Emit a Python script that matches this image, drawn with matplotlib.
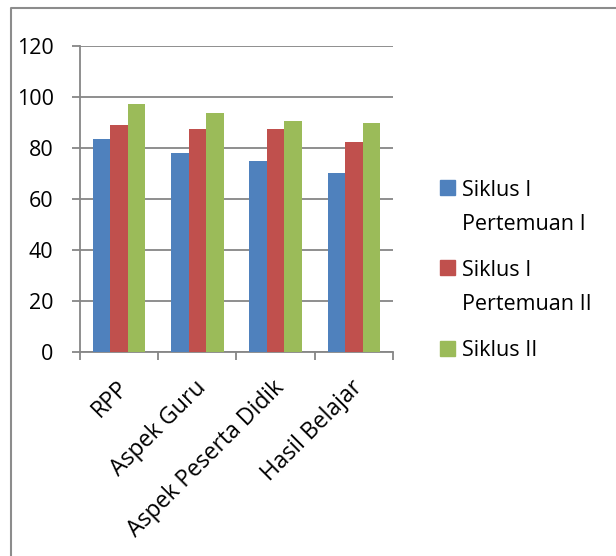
import numpy as np
import matplotlib.pyplot as plt
from matplotlib.patches import Rectangle
from matplotlib.lines import Line2D

# data
categories = ["RPP", "Aspek Guru", "Aspek Peserta Didik", "Hasil Belajar"]
series_names = ["Siklus I\nPertemuan I", "Siklus I\nPertemuan II", "Siklus II"]
siklus1_p1 = [83.3, 78.0, 74.8, 70.1]
siklus1_p2 = [88.8, 87.3, 87.3, 82.4]
siklus2 = [97.1, 93.6, 90.5, 89.7]
colors = ["#4F81BD", "#C0504D", "#9BBB59"]

plt.rcParams['font.family'] = ['Open Sans', 'DejaVu Sans']

W, H = 616, 556
fig = plt.figure(figsize=(W / 100, H / 100), dpi=100)
ax = fig.add_axes([80 / W, 1 - 352 / H, 313 / W, (352 - 45.7) / H])

x = np.arange(len(categories))
w = 0.223
values = [siklus1_p1, siklus1_p2, siklus2]
for i, (vals, c) in enumerate(zip(values, colors)):
    ax.bar(x + (i - 1) * w, vals, width=w, color=c, zorder=3)

ax.set_xlim(-0.5, len(categories) - 0.5)
ax.set_ylim(0, 120)
ax.set_yticks(range(0, 121, 20))
ax.yaxis.grid(True, color="#868686", linewidth=1.3, zorder=0)
ax.tick_params(axis='y', labelsize=15.5, length=6, color="#868686", width=1.3, pad=13)

ax.set_xticks(x - 0.04)
ax.set_xticklabels(categories, rotation=45, ha='right', va='top',
                   rotation_mode='anchor', fontsize=16.5)
ax.tick_params(axis='x', which='major', length=0, pad=17)
ax.set_xticks(np.arange(-0.5, len(categories), 1.0), minor=True)
ax.tick_params(axis='x', which='minor', length=6, color="#868686", width=1.3)

for side in ['top', 'right']:
    ax.spines[side].set_visible(False)
for side in ['left', 'bottom']:
    ax.spines[side].set_color("#868686")
    ax.spines[side].set_linewidth(1.3)

# legend drawn by hand: marker lines up with the first text line
y = 188
for name, c in zip(series_names, colors):
    lines = name.split("\n")
    fig.patches.append(Rectangle((440 / W, 1 - (y + 7.5) / H), 15 / W, 15 / H,
                                 transform=fig.transFigure, color=c))
    for j, line in enumerate(lines):
        fig.text(462 / W, 1 - (y + j * 34) / H, line, fontsize=15.5, va='center_baseline')
    y += (len(lines) - 1) * 34 + 46

# chart frame (only top and left edges visible)
fig.lines.append(Line2D([10.5 / W, 10.5 / W, 1.0], [0.0, 1 - 7.5 / H, 1 - 7.5 / H],
                        transform=fig.transFigure, color="#8c8c8c", linewidth=1.5))

fig.savefig("out.png", dpi=100)
